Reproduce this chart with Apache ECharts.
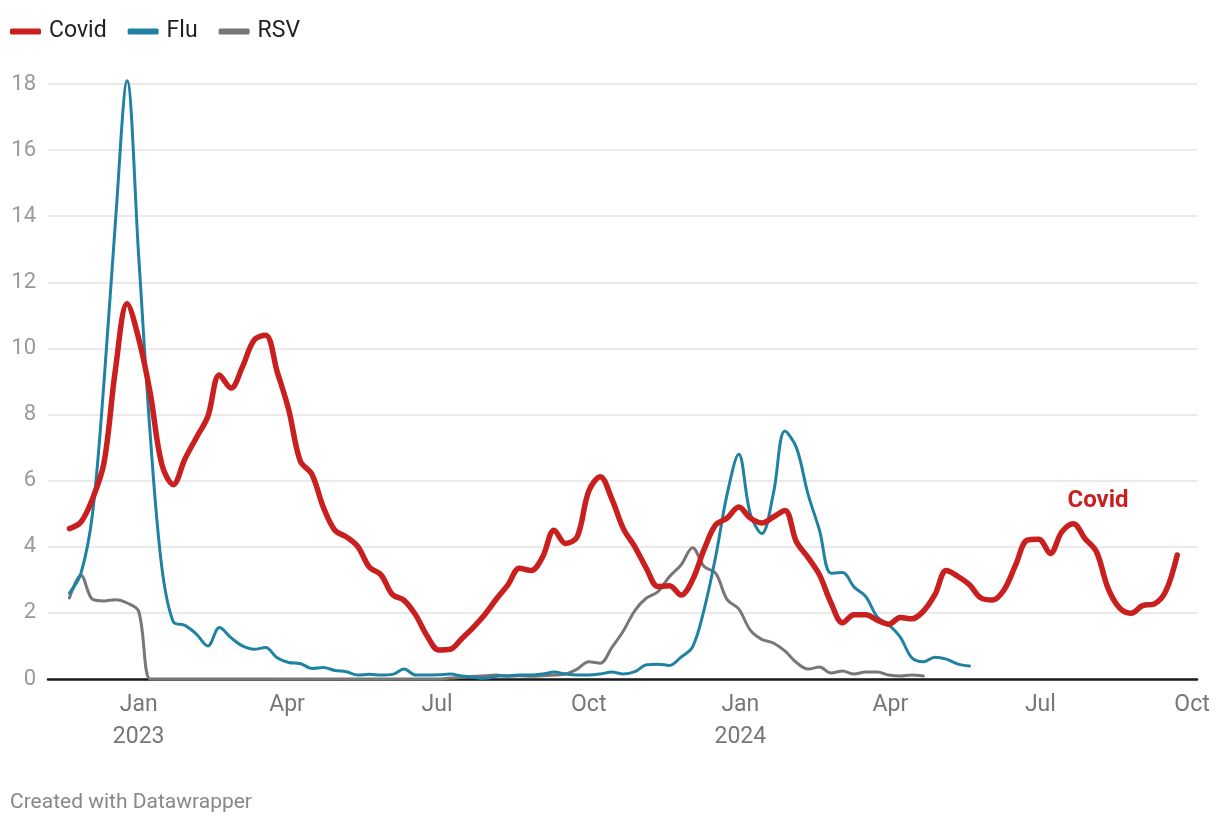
<!DOCTYPE html>
<html>
<head>
<meta charset="utf-8">
<script src="https://cdn.jsdelivr.net/npm/echarts@6/dist/echarts.min.js"></script>
<style>
  html, body { margin: 0; padding: 0; background: #ffffff; }
  #chart { width: 1220px; height: 826px; }
</style>
</head>
<body>
<div id="chart"></div>
<script>
// ---- Data (weekly, first week starting 2022-11-20) ----
const firstWeek = '2022-11-20';
const covid = [4.55, 4.75, 5.45, 6.55, 9.4, 11.35, 10.3, 8.65, 6.5, 5.88,
  6.65, 7.3, 7.95, 9.2, 8.8, 9.45, 10.25, 10.4, 9.3, 8.15,
  6.6, 6.2, 5.2, 4.5, 4.3, 4.0, 3.38, 3.15, 2.55, 2.38,
  1.94, 1.3, 0.88, 0.9, 1.22, 1.56, 1.95, 2.42, 2.85, 3.35,
  3.28, 3.69, 4.5, 4.1, 4.3, 5.68, 6.12, 5.45, 4.55, 4.0,
  3.35, 2.8, 2.82, 2.54, 3.0, 3.92, 4.66, 4.87, 5.2, 4.87,
  4.72, 4.9, 5.1, 4.15, 3.68, 3.15, 2.3, 1.7, 1.94, 1.94,
  1.78, 1.66, 1.86, 1.82, 2.05, 2.55, 3.28, 3.1, 2.85, 2.45,
  2.39, 2.7, 3.45, 4.2, 4.23, 3.8, 4.45, 4.7, 4.25, 3.85,
  2.75, 2.15, 1.99, 2.22, 2.27, 2.65, 3.75];
const flu = [2.6, 3.2, 5.0, 9.0, 13.9, 18.1, 12.8, 7.4, 3.4, 1.73,
  1.62, 1.36, 1.0, 1.56, 1.25, 1.0, 0.9, 0.95, 0.64, 0.5,
  0.47, 0.32, 0.35, 0.26, 0.22, 0.12, 0.14, 0.12, 0.14, 0.3,
  0.12, 0.12, 0.13, 0.15, 0.09, 0.05, 0.02, 0.08, 0.1, 0.12,
  0.12, 0.15, 0.21, 0.15, 0.12, 0.12, 0.15, 0.21, 0.15, 0.22,
  0.43, 0.45, 0.41, 0.66, 0.97, 2.1, 3.7, 5.6, 6.8, 5.0,
  4.4, 5.6, 7.5, 7.0, 5.6, 4.5, 3.2, 3.22, 2.78, 2.5,
  1.88, 1.64, 1.27, 0.64, 0.52, 0.66, 0.6, 0.45, 0.39];
const rsv = [2.45, 3.14, 2.41, 2.36, 2.4, 2.3, 2.05, 0, 0, 0,
  0, 0, 0, 0, 0, 0, 0, 0, 0, 0,
  0, 0, 0, 0, 0, 0, 0, 0, 0, 0,
  0, 0, 0, 0.03, 0.05, 0.08, 0.1, 0.12, 0.08, 0.1,
  0.08, 0.1, 0.12, 0.15, 0.3, 0.52, 0.48, 0.95, 1.45, 2.07,
  2.45, 2.64, 3.1, 3.45, 3.97, 3.4, 3.2, 2.4, 2.12, 1.48,
  1.2, 1.09, 0.85, 0.5, 0.3, 0.36, 0.18, 0.24, 0.15, 0.21,
  0.21, 0.12, 0.09, 0.12, 0.09];
const tickDates = ['2023-01-01', '2023-04-01', '2023-07-01', '2023-10-01',
  '2024-01-01', '2024-04-01', '2024-07-01', '2024-10-01'];
const tickLabels = ['Jan\n2023', 'Apr', 'Jul', 'Oct', 'Jan\n2024', 'Apr', 'Jul', 'Oct'];
const yTicks = [0, 2, 4, 6, 8, 10, 12, 14, 16, 18];
const seriesNames = ['Covid', 'Flu', 'RSV'];
const colors = { Covid: '#c91f1f', Flu: '#1f82a3', RSV: '#777777' };
const annotation = { text: 'Covid', date: '2024-08-05', value: 5.38 };

// ---- Helpers ----
const DAY = 86400000;
const origin = Date.UTC(2023, 0, 1);
function dayOf(s) {
  const p = s.split('-').map(Number);
  return (Date.UTC(p[0], p[1] - 1, p[2]) - origin) / DAY;
}
const startDay = dayOf(firstWeek);
function toPoints(arr) { return arr.map((v, i) => [startDay + 7 * i, v]); }
const tickDays = tickDates.map(dayOf);

const chart = echarts.init(document.getElementById('chart'), null, { renderer: 'canvas' });
const font = 'Roboto, "Noto Sans", sans-serif';

function lineSeries(name, arr, width, extra) {
  return Object.assign({
    name: name,
    type: 'line',
    data: toPoints(arr),
    showSymbol: false,
    symbol: 'none',
    smooth: 0.35,
    clip: false,
    lineStyle: { color: colors[name], width: width, cap: 'round', join: 'round' },
    itemStyle: { color: colors[name] },
    emphasis: { disabled: true }
  }, extra || {});
}

const option = {
  animation: false,
  textStyle: { fontFamily: font },
  legend: {
    data: seriesNames,
    left: 10,
    top: 15,
    padding: [5, 5, 5, 0],
    icon: 'roundRect',
    itemWidth: 31,
    itemHeight: 6,
    itemGap: 21,
    textStyle: { color: '#222', fontSize: 23, fontFamily: font, padding: [0, 0, 0, 3] },
    selectedMode: false
  },
  grid: { left: 48, right: 23, top: 84, bottom: 147, containLabel: false },
  xAxis: {
    type: 'value',
    min: -55,
    max: 642,
    axisLine: { show: true, onZero: true, lineStyle: { color: '#1a1a1a', width: 2.5 } },
    axisTick: { show: false },
    splitLine: { show: false },
    axisLabel: {
      customValues: tickDays,
      color: '#777',
      fontSize: 23,
      lineHeight: 32,
      margin: 10,
      fontFamily: font,
      formatter: function (v) {
        for (let i = 0; i < tickDays.length; i++) {
          if (Math.abs(tickDays[i] - v) < 0.5) return tickLabels[i];
        }
        return '';
      }
    }
  },
  yAxis: {
    type: 'value',
    min: 0,
    max: 18,
    interval: 2,
    axisLine: { show: false },
    axisTick: { show: false },
    splitLine: { show: true, lineStyle: { color: '#e3e3e3', width: 1.5 } },
    axisLabel: {
      customValues: yTicks,
      color: '#9a9a9a',
      fontSize: 22,
      margin: 12,
      fontFamily: font
    }
  },
  series: [
    lineSeries('RSV', rsv, 3),
    lineSeries('Flu', flu, 3),
    lineSeries('Covid', covid, 5.5, {
      markPoint: {
        symbol: 'circle',
        symbolSize: 0,
        silent: true,
        label: {
          show: true,
          position: 'inside',
          formatter: annotation.text,
          color: colors.Covid,
          fontSize: 24,
          fontWeight: 'bold',
          fontFamily: font
        },
        data: [{ coord: [dayOf(annotation.date), annotation.value] }]
      }
    })
  ],
  graphic: [{
    type: 'text',
    x: 10,
    y: 803,
    style: { text: 'Created with Datawrapper', fill: '#888', fontSize: 21, fontFamily: font, verticalAlign: 'middle' }
  }]
};
chart.setOption(option);
</script>
</body>
</html>
